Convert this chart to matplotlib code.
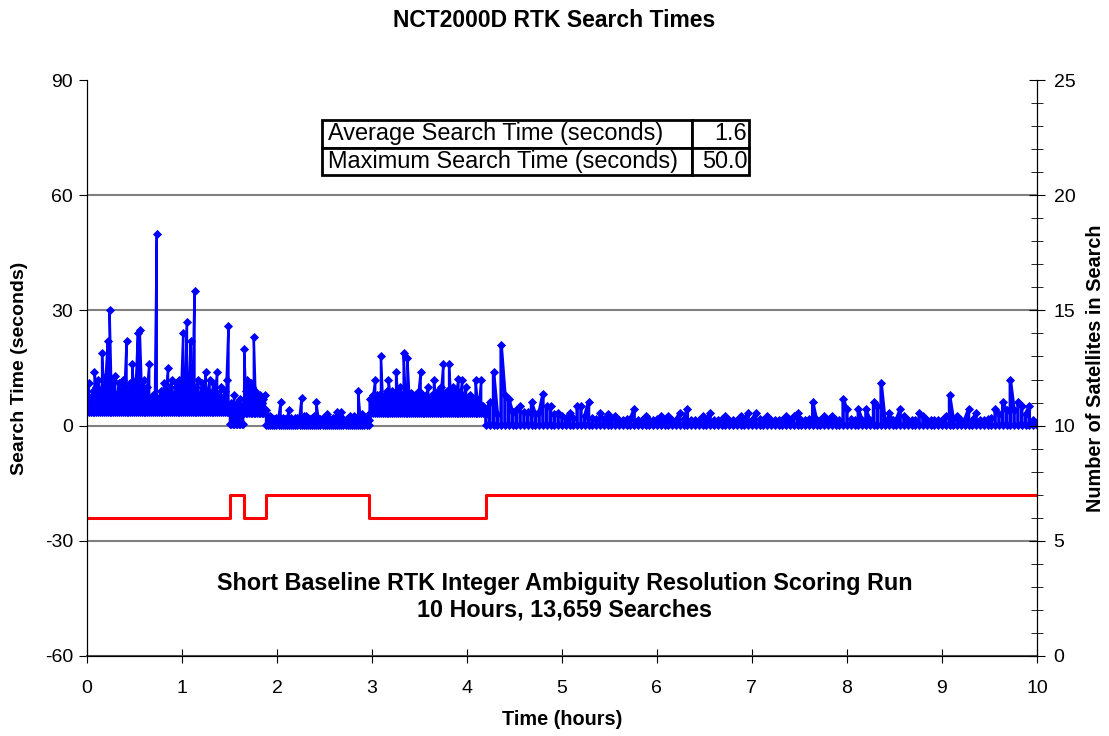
import numpy as np
import matplotlib.pyplot as plt
from matplotlib.ticker import MultipleLocator

plt.rcParams['font.family'] = ['Liberation Sans', 'DejaVu Sans']
plt.rcParams['axes.unicode_minus'] = False

# satellite count changes (hours) and counts
sat_times = [0.0, 1.505, 1.65, 1.88, 2.97, 4.2, 10.0]
sat_counts = [6, 7, 6, 7, 6, 7, 7]

# search time blocks (start hour, end hour), one per satellite block
seg_bounds = [(0.0, 1.49), (1.505, 1.645), (1.655, 1.875), (1.885, 2.965), (2.975, 4.19), (4.2, 10.0)]
# lowest search time seen in each block (seconds)
seg_floor = [3.6, 0.3, 3.3, 0.2, 3.3, 0.2]

# highest search time in each short time bin
search_a = [8, 11, 7, 9, 14, 10, 12, 9, 19, 10,
            13, 22, 30, 9, 12, 13, 8, 11, 9, 12,
            10, 22, 9, 11, 16, 9, 12, 24, 25, 10,
            12, 8, 10, 16, 7, 8, 7, 50, 7, 9,
            8, 11, 9, 15, 10, 12, 8, 11, 9, 12,
            10, 24, 11, 27, 11, 22, 9, 35, 10, 12,
            8, 11, 9, 14, 9, 12, 8, 11, 9, 14,
            8, 10, 7, 9, 12, 26]
search_b = [5, 6, 4, 8, 5, 6, 4, 7, 5, 4]
search_c = [20, 9, 12, 10, 11, 10, 23, 9, 8, 7, 8, 6, 7, 8]
search_d = [4, 2.5, 2.5, 2, 1.8, 2, 2.2, 6.2, 2, 1.8,
            2, 4, 2, 1.5, 2, 2, 2.2, 7.3, 2.5, 2.5,
            2, 1.8, 2, 2.5, 6.2, 2, 1.8, 2, 1.5, 3,
            1.8, 1.5, 2, 2, 3.5, 2, 3.5, 1.8, 1.5, 2,
            2.5, 2, 2.5, 2, 9, 2.5, 3, 2, 2, 1.5]
search_e = [7, 7, 8, 12, 8, 8, 18, 7, 8, 9,
            12, 8, 9, 8, 14, 8, 10, 8, 19, 8,
            17.5, 8, 8.5, 7, 8, 7, 9, 14, 8, 7,
            8, 10, 7, 8, 12, 8, 9, 8, 10, 16,
            8, 9, 16, 8, 10, 8, 9, 12.2, 8, 12,
            8, 10, 7, 8, 7, 7, 12, 7, 6, 12,
            5, 4]
search_f = [3, 6.2, 14, 3, 21, 8, 7, 3.5, 4, 5.1,
            3.5, 3.5, 6.1, 3, 3.5, 8.1, 5.1, 5.1, 3, 3.3,
            2.5, 2, 3.3, 2, 5.1, 5, 2.5, 6.1, 2, 1.8,
            3.3, 1.6, 3, 1.6, 2.5, 1.5, 1.5, 1.6, 1.8, 4.3,
            1.5, 1.5, 2.5, 1.5, 1.5, 1.6, 2.5, 1.5, 2.5, 1.5,
            1.5, 3.3, 1.6, 4.3, 1.5, 1.5, 1.5, 2.5, 1.5, 3.3,
            1.5, 1.5, 1.6, 2.5, 1.5, 1.5, 1.5, 2.5, 1.5, 3.3,
            1.5, 3.3, 1.6, 1.5, 2.5, 1.5, 1.5, 1.5, 1.5, 2.5,
            1.5, 2.5, 3.2, 1.5, 1.5, 1.6, 6.1, 1.5, 1.5, 2.5,
            1.5, 2.5, 1.5, 1.5, 7, 4.2, 1.6, 1.5, 4.2, 1.5,
            4.3, 1.5, 6.1, 5.1, 11, 1.5, 3.3, 1.5, 1.5, 4.2,
            2.5, 1.5, 1.5, 1.5, 3.3, 2.5, 1.5, 1.5, 1.5, 1.5,
            1.5, 2.5, 8, 1.6, 2.5, 1.5, 1.5, 4.2, 1.5, 3.3,
            1.5, 1.5, 1.6, 2, 4.2, 3, 6.1, 4, 11.9, 4,
            6.1, 5, 3, 5.1, 1.5, 1]
search_blocks = [search_a, search_b, search_c, search_d, search_e, search_f]

table_rows = [["Average Search Time (seconds)", "1.6"],
              ["Maximum Search Time (seconds)", "50.0"]]

fig = plt.figure(figsize=(11.09, 7.36), dpi=100)
ax = fig.add_axes([0.0784, 0.1087, 0.8566, 0.7826])
ax2 = ax.twinx()

# searches within a bin swing between the block floor and the bin peak
for (t0, t1), low, tops in zip(seg_bounds, seg_floor, search_blocks):
    t_blk = []
    v_blk = []
    for k, (t, top) in enumerate(zip(np.linspace(t0, t1, len(tops)), tops)):
        t_blk += [t, t]
        v_blk += [low, top] if k % 2 == 0 else [top, low]
    # sparser bins get a heavier stroke so the band stays solid
    lw = 2.5 if (t1 - t0) / len(tops) > 0.03 else 1.7
    ax.plot(t_blk, v_blk, color='#0000FF', lw=lw, marker='D', markersize=4,
            markerfacecolor='#0000FF', markeredgecolor='#0000FF', markeredgewidth=0.6, zorder=3)

ax2.step(sat_times, sat_counts, where='post', color='#FF0000', lw=2.2)

ax.set_xlim(0, 10)
ax.set_ylim(-60, 90)
ax.yaxis.set_major_locator(MultipleLocator(30))
ax.xaxis.set_major_locator(MultipleLocator(1))
ax2.set_ylim(0, 25)
ax2.yaxis.set_major_locator(MultipleLocator(5))
ax2.yaxis.set_minor_locator(MultipleLocator(1))

for y in [-30, 0, 30, 60]:
    ax.axhline(y, color='#808080', lw=1.5, zorder=1)

for a in (ax, ax2):
    a.spines['top'].set_visible(False)
ax.spines['left'].set_color('black')
ax.spines['bottom'].set_color('#505050')
ax.spines['bottom'].set_linewidth(1.5)
ax2.spines['right'].set_color('black')

ax.tick_params(axis='y', direction='out', length=6, labelsize=14, pad=4)
ax.tick_params(axis='x', direction='inout', length=10, labelsize=14, pad=12)
ax2.tick_params(axis='y', which='major', direction='inout', length=12, labelsize=14, pad=6)
ax2.tick_params(axis='y', which='minor', direction='inout', length=8)

ax.set_xlabel("Time (hours)", fontsize=14.3, fontweight='bold', labelpad=10)
ax.set_ylabel("Search Time (seconds)", fontsize=14, fontweight='bold', labelpad=12)
ax2.set_ylabel("Number of Satellites in Search", fontsize=14.3, fontweight='bold', labelpad=8)
fig.suptitle("NCT2000D RTK Search Times", fontsize=16.5, fontweight='bold', y=0.988)

ax.text(5.03, -44.6, "Short Baseline RTK Integer Ambiguity Resolution Scoring Run\n10 Hours, 13,659 Searches",
        ha='center', va='center', fontsize=16.8, fontweight='bold', linespacing=1.2)

tbl = ax.table(cellText=table_rows, cellLoc='left', colWidths=[370, 57],
               bbox=[0.2474, 0.835, 0.4494, 0.0955])
tbl.auto_set_font_size(False)
for (r, c), cell in tbl.get_celld().items():
    cell.set_linewidth(2)
    cell.set_edgecolor('black')
    cell.get_text().set_fontsize(16.9)
    if c == 1:
        cell.PAD = 0.03
        cell.get_text().set_ha('right')
        cell._loc = 'right'
    else:
        cell.PAD = 0.015

fig.savefig("out.png", dpi=100)
